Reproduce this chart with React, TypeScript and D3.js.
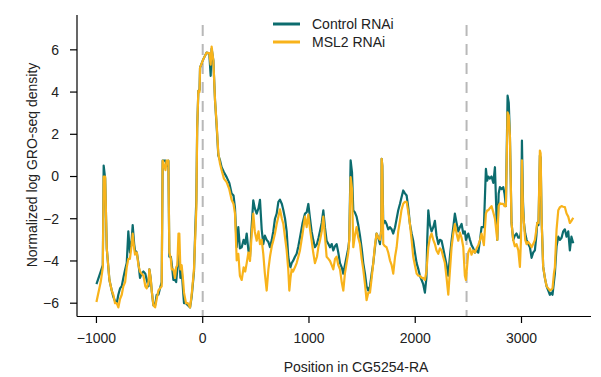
import React from "react";
import * as d3 from "d3";

const positions = [
  -1000, -960, -940, -932, -918, -903, -878, -856, -841, -825, -809, -794, -778, -762, -747, -730, -715, -700, -685, -670,
  -659, -645, -637, -620, -605, -590, -575, -558, -540, -527, -510, -502, -490, -480, -464, -448, -433, -417, -402, -386,
  -377, -350, -340, -323, -314, -300, -292, -276, -261, -250, -239, -228, -220, -210, -198, -185, -176, -157, -140, -119,
  -104, -82, -70, -60, -52, -41, -30, -25, 6, 37, 62, 75, 84, 100, 116, 131, 147, 163, 178, 200,
  225, 250, 272, 290, 304, 320, 335, 350, 367, 385, 400, 414, 430, 445, 460, 476, 490, 508, 525, 539,
  555, 570, 585, 602, 618, 633, 650, 664, 680, 696, 712, 727, 745, 759, 775, 790, 805, 815, 826, 837,
  850, 868, 884, 900, 915, 940, 962, 978, 994, 1010, 1025, 1040, 1056, 1075, 1090, 1103, 1120, 1135, 1150, 1166,
  1183, 1198, 1214, 1229, 1245, 1260, 1276, 1292, 1308, 1323, 1338, 1354, 1370, 1379, 1392, 1405, 1417, 1432, 1448, 1464,
  1480, 1496, 1511, 1527, 1542, 1558, 1574, 1590, 1605, 1620, 1636, 1652, 1668, 1680, 1684, 1690, 1699, 1715, 1730, 1746,
  1762, 1778, 1793, 1810, 1825, 1840, 1856, 1870, 1887, 1903, 1919, 1935, 1950, 1966, 1981, 1997, 2013, 2030, 2044, 2060,
  2075, 2091, 2105, 2113, 2123, 2138, 2154, 2170, 2185, 2200, 2217, 2232, 2248, 2263, 2279, 2295, 2311, 2326, 2342, 2358,
  2373, 2389, 2405, 2420, 2436, 2452, 2467, 2477, 2499, 2515, 2530, 2546, 2562, 2578, 2593, 2610, 2624, 2646, 2665, 2677,
  2687, 2702, 2718, 2735, 2750, 2772, 2785, 2797, 2812, 2828, 2840, 2853, 2869, 2880, 2891, 2906, 2922, 2937, 2953, 2970,
  2985, 2995, 3004, 3014, 3023, 3035, 3048, 3063, 3079, 3095, 3110, 3126, 3140, 3148, 3160, 3173, 3180, 3189, 3204, 3220,
  3236, 3252, 3267, 3282, 3292, 3305, 3314, 3330, 3346, 3362, 3377, 3392, 3408, 3424, 3440, 3455, 3470, 3487,
];

const controlRNAi = [
  -5.1, -4.5, -4.2, 0.52, -0.1, -3.4, -4.9, -5.4, -5.7, -5.9, -6.0, -5.6, -5.3, -5.2, -4.8, -4.4, -4.1, -2.6, -3.6, -3.1,
  -2.3, -3.2, -3.5, -3.6, -4.1, -4.8, -4.6, -4.5, -4.6, -4.9, -5.2, -4.4, -4.8, -5.4, -6.1, -6.1, -5.6, -5.6, -5.3, -5.0,
  0.75, 0.75, 0.5, 0.75, -3.8, -3.8, -4.1, -4.9, -4.9, -5.0, -4.4, -3.8, -3.6, -4.8, -4.4, -5.4, -6.0, -6.0, -6.1, -6.2,
  -5.7, -4.5, -2.5, -1.1, 2.3, 4.06, 4.1, 5.16, 5.56, 5.87, 5.8, 4.77, 6.05, 5.5, 3.6, 2.4, 1.0, 0.76, 0.44, 0.2,
  -0.03, -0.3, -0.8, -0.9, -1.5, -3.35, -2.4, -3.4, -3.35, -3.0, -3.2, -2.7, -3.5, -3.8, -2.4, -1.13, -1.5, -1.76, -1.5, -1.1,
  -2.5, -3.2, -2.8, -3.0, -3.1, -3.35, -3.0, -2.6, -2.0, -1.76, -1.2, -1.1, -1.3, -1.6, -2.0, -2.6, -3.8, -4.1, -4.3, -4.1,
  -4.0, -3.8, -3.66, -3.3, -2.9, -2.2, -1.76, -1.7, -1.3, -2.0, -2.6, -3.0, -3.35, -3.2, -2.9, -2.6, -2.2, -1.6, -2.4, -3.04,
  -3.2, -3.35, -3.2, -3.5, -3.3, -3.2, -3.6, -4.1, -4.3, -4.6, -4.2, -3.8, -3.4, -3.0, 0.76, 0.2, -1.6, -1.7, -1.9, -2.3,
  -2.8, -3.4, -4.1, -4.6, -5.2, -5.4, -5.2, -4.6, -4.1, -3.4, -2.7, -2.9, -3.2, -2.5, 0.84, 0.5, -2.25, -2.1, -2.25, -2.5,
  -2.4, -2.5, -2.7, -2.4, -2.0, -1.6, -1.3, -1.0, -0.66, -0.8, -0.9, -1.5, -2.25, -2.7, -3.04, -3.6, -4.1, -4.4, -4.7, -4.9,
  -5.1, -5.5, -4.8, -3.0, -1.6, -2.3, -2.6, -2.4, -2.1, -2.8, -3.2, -3.0, -3.04, -3.4, -3.8, -4.2, -4.7, -3.8, -3.04, -2.4,
  -1.76, -2.2, -2.6, -2.4, -2.25, -2.7, -2.6, -3.0, -2.7, -3.0, -3.25, -3.4, -3.6, -3.5, -3.6, -3.0, -2.4, -2.4, 0.36, -0.2,
  0.0, -0.1, 0.0, -0.3, 0.44, -3.0, -0.8, -0.5, -0.6, -0.5, -0.8, -1.4, 3.83, 3.5, 1.92, -2.2, -3.0, -2.8, -2.7, -2.9,
  -2.9, -2.6, 1.7, -1.2, -2.2, -2.7, -3.0, -3.2, -3.35, -3.85, -3.6, -3.5, -2.8, -2.2, -2.3, 1.0, 0.9, -2.0, -4.28, -4.8,
  -5.2, -5.4, -5.6, -5.5, -5.6, -5.0, -4.6, -3.3, -2.85, -3.0, -2.9, -2.6, -2.5, -2.85, -2.6, -3.5, -2.85, -3.16,
];

const msl2RNAi = [
  -5.94, -5.0, -4.3, 0.0, 0.0, -3.4, -4.9, -5.4, -5.6, -6.0, -6.0, -6.2, -5.8, -5.6, -5.2, -5.0, -4.3, -3.9, -3.9, -3.3,
  -2.7, -3.4, -3.7, -3.6, -4.2, -4.5, -4.6, -4.7, -5.2, -5.3, -5.0, -4.4, -4.8, -5.4, -6.1, -6.2, -5.8, -5.4, -5.3, -5.2,
  0.75, 0.3, 0.75, 0.75, -3.6, -3.9, -4.4, -4.4, -4.8, -4.3, -4.2, -2.7, -2.7, -4.4, -4.2, -4.9, -5.5, -6.0, -6.0, -6.2,
  -5.6, -4.4, -2.8, -1.5, 2.3, 4.06, 4.0, 5.16, 5.56, 5.87, 5.85, 5.3, 6.15, 5.5, 3.6, 2.5, 1.1, 0.6, 0.3, -0.1,
  -0.27, -0.6, -1.1, -1.3, -1.76, -3.97, -3.66, -4.7, -4.9, -4.3, -4.5, -4.1, -3.6, -4.0, -2.8, -1.76, -2.6, -3.04, -2.6, -3.2,
  -3.0, -3.66, -4.6, -5.4, -4.4, -3.8, -3.3, -3.04, -2.7, -2.25, -1.9, -1.55, -2.0, -2.25, -2.9, -3.5, -4.4, -5.4, -4.8, -4.4,
  -4.5, -4.3, -4.1, -3.8, -3.5, -2.7, -1.9, -2.4, -1.8, -2.5, -3.04, -3.6, -4.1, -3.8, -3.3, -3.04, -2.6, -1.9, -2.8, -3.8,
  -3.9, -4.0, -4.2, -4.4, -3.9, -3.8, -4.2, -4.4, -5.0, -5.4, -4.6, -4.1, -3.6, -3.0, -0.03, -0.6, -3.35, -2.8, -2.4, -2.9,
  -3.2, -3.9, -4.4, -5.1, -5.86, -5.5, -5.5, -4.8, -4.1, -3.3, -2.7, -2.9, -3.0, -2.6, 0.84, 0.5, -3.2, -3.3, -3.35, -3.6,
  -3.97, -4.2, -4.6, -3.8, -3.35, -2.6, -2.1, -1.6, -1.29, -1.2, -1.2, -1.7, -2.25, -3.0, -3.8, -4.2, -4.6, -4.7, -4.7, -4.8,
  -4.8, -4.9, -4.5, -4.0, -3.35, -2.9, -2.7, -3.0, -3.2, -3.5, -3.66, -3.4, -3.5, -3.8, -4.1, -4.8, -5.6, -4.5, -3.35, -2.7,
  -2.25, -2.7, -3.04, -2.65, -2.9, -3.34, -4.7, -4.9, -3.6, -3.4, -3.7, -3.5, -3.6, -3.4, -3.25, -3.0, -2.7, -3.25, -1.76, -1.6,
  -1.6, -1.5, -1.4, -1.7, -2.0, -3.0, -1.4, -1.27, -1.3, -1.3, -1.4, -1.4, 3.04, 2.9, 1.92, -2.2, -3.0, -3.3, -3.2, -3.5,
  -4.28, -3.0, 0.76, -1.6, -2.2, -3.0, -3.2, -3.1, -3.2, -3.35, -3.2, -3.0, -2.5, -2.2, -2.2, 1.23, 1.1, -2.0, -4.28, -4.8,
  -5.2, -5.3, -5.4, -5.35, -5.3, -4.6, -4.3, -2.5, -1.6, -1.45, -1.4, -1.43, -1.45, -1.75, -1.9, -2.2, -2.1, -1.95,
];

const xTicks = [-1000, 0, 1000, 2000, 3000];
const yTicks = [-6, -4, -2, 0, 2, 4, 6];
const dashedPositions = [0, 2483];
const seriesNames = ["Control RNAi", "MSL2 RNAi"];

const COLORS = ["#0c6c6e", "#f8b31b"];
const FONT = "'Liberation Sans', Arial, Helvetica, sans-serif";

export default function App() {
  const x = d3.scaleLinear().domain([-1183, 3654]).range([77, 591]);
  const y = d3.scaleLinear().domain([-6.63, 7.65]).range([316.5, 15]);
  const series = [controlRNAi, msl2RNAi];
  const line = d3
    .line<number>()
    .x((_, i) => x(positions[i]))
    .y((d) => y(d));

  return (
    <svg
      width={601}
      height={377}
      style={{ position: "fixed", left: 0, top: 0, background: "#fff" }}
      fontFamily={FONT}
    >
      {dashedPositions.map((p) => (
        <line
          key={p}
          x1={x(p)}
          x2={x(p)}
          y1={25}
          y2={316.5}
          stroke="#b8b8b8"
          strokeWidth={2}
          strokeDasharray="11,8"
        />
      ))}
      {series.map((s, k) => (
        <path
          key={k}
          d={line(s) || ""}
          fill="none"
          stroke={COLORS[k]}
          strokeWidth={2.2}
          strokeLinejoin="round"
        />
      ))}
      {/* axes */}
      <line x1={77} x2={77} y1={15} y2={316.5} stroke="#000" strokeWidth={1.2} />
      <line x1={77} x2={591} y1={316.5} y2={316.5} stroke="#000" strokeWidth={1.2} />
      {yTicks.map((t) => (
        <g key={t}>
          <line x1={70} x2={77} y1={y(t)} y2={y(t)} stroke="#000" strokeWidth={1.2} />
          <text x={59} y={y(t)} dy="0.35em" textAnchor="end" fontSize={14} fill="#222">
            {t < 0 ? "\u2212" + Math.abs(t) : t}
          </text>
        </g>
      ))}
      {xTicks.map((t) => (
        <g key={t}>
          <line x1={x(t)} x2={x(t)} y1={316.5} y2={323} stroke="#000" strokeWidth={1.2} />
          <text x={x(t)} y={343} textAnchor="middle" fontSize={14} fill="#222">
            {t < 0 ? "\u2212" + Math.abs(t) : t}
          </text>
        </g>
      ))}
      <text x={356} y={372} textAnchor="middle" fontSize={14} fill="#222">
        Position in CG5254-RA
      </text>
      <text
        transform="translate(37,165) rotate(-90)"
        textAnchor="middle"
        fontSize={14}
        fill="#222"
      >
        Normalized log GRO-seq density
      </text>
      {/* legend */}
      {seriesNames.map((n, k) => (
        <g key={n}>
          <line x1={273} x2={300} y1={24 + k * 18} y2={24 + k * 18} stroke={COLORS[k]} strokeWidth={3} />
          <text x={312} y={24 + k * 18} dy="0.35em" fontSize={14} fill="#222">
            {n}
          </text>
        </g>
      ))}
    </svg>
  );
}
